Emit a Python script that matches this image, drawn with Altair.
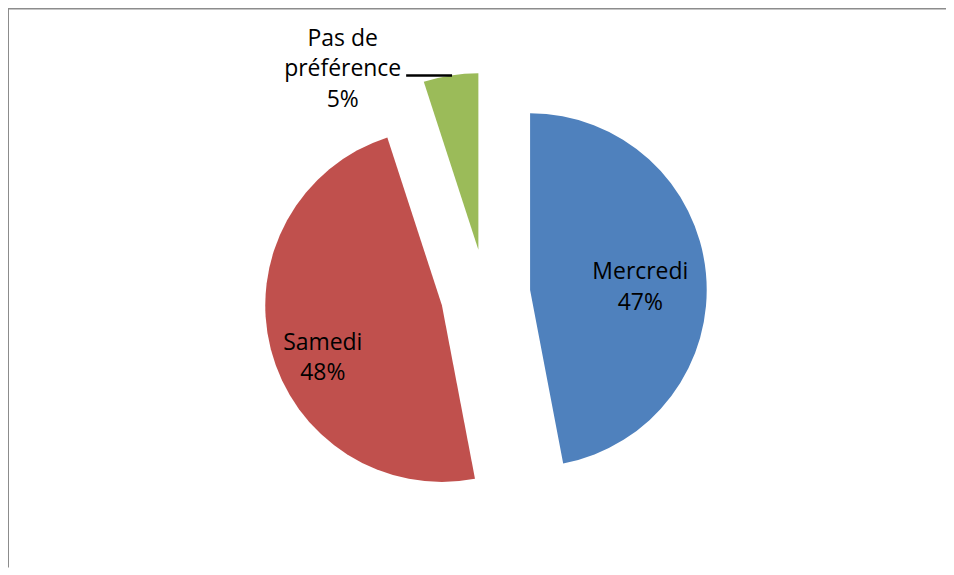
import altair as alt
import pandas as pd

# ---- data ----
categories = ["Mercredi", "Samedi", "Pas de préférence"]
label_lines = ["Mercredi", "Samedi", "Pas de\npréférence"]
shares = [47, 48, 5]
slice_order = [0, 1, 2]
colors = ["#4F81BD", "#C0504D", "#9BBB59"]

df = pd.DataFrame({"cat": categories, "lab": label_lines, "v": shares, "k": slice_order})

# ---- layout (pixels inside the view) ----
W, H = 940, 560
CX, CY = 478.4, 286.2     # pie centre
R = 177                   # pie radius
D = 45                    # explosion distance
RL = 115                  # label distance from slice apex

base = (
    alt.Chart(df)
    .transform_joinaggregate(total="sum(v)")
    .transform_window(cum="sum(v)", sort=[alt.SortField("k")], frame=[None, 0])
    .transform_calculate(
        mid="(datum.cum - datum.v / 2) / datum.total * 2 * PI",
        txt="datum.lab + '\\n' + datum.v + '%'",
    )
    .transform_calculate(
        ax=f"{CX} + {D} * sin(datum.mid)",
        ay=f"{CY} - {D} * cos(datum.mid)",
    )
    .transform_calculate(
        lx=f"datum.ax + {RL} * sin(datum.mid)",
        ly=f"datum.ay - {RL} * cos(datum.mid)",
    )
)

pie = base.mark_arc(radius=R).encode(
    theta=alt.Theta("v:Q", stack=True),
    order=alt.Order("k:Q"),
    color=alt.Color("cat:N", scale=alt.Scale(domain=categories, range=colors), legend=None),
    x=alt.X("ax:Q", scale=None),
    y=alt.Y("ay:Q", scale=None),
)

label_shift = {"Mercredi": (-4, -7), "Samedi": (-8, 9), "Pas de préférence": (-118, -98)}

texts = []
for c in categories:
    ddx, ddy = label_shift[c]
    texts.append(
        base.transform_filter(alt.datum.cat == c)
        .mark_text(
            font="Open Sans", fontSize=23, color="black", align="center",
            baseline="middle", lineBreak="\n", lineHeight=30.5, dx=ddx, dy=ddy,
        )
        .encode(x=alt.X("lx:Q", scale=None), y=alt.Y("ly:Q", scale=None), text="txt:N")
    )

one = alt.Chart(pd.DataFrame({"o": [0]}))
leader = one.mark_rule(color="black", strokeWidth=2.5).encode(
    x=alt.value(399), x2=alt.value(445), y=alt.value(67)
)
frame_top = one.mark_rule(color="#8c8c8c", strokeWidth=2).encode(
    x=alt.value(0), x2=alt.value(W), y=alt.value(0)
)
frame_left = one.mark_rule(color="#8c8c8c", strokeWidth=2).encode(
    x=alt.value(0), y=alt.value(0), y2=alt.value(H)
)

chart = (
    alt.layer(pie, *texts, leader, frame_top, frame_left)
    .properties(width=W, height=H, padding=0, autosize="none", background="white")
    .configure_view(stroke="transparent")
)

chart.save("out.html", embed_options={"renderer": "svg", "actions": False})
